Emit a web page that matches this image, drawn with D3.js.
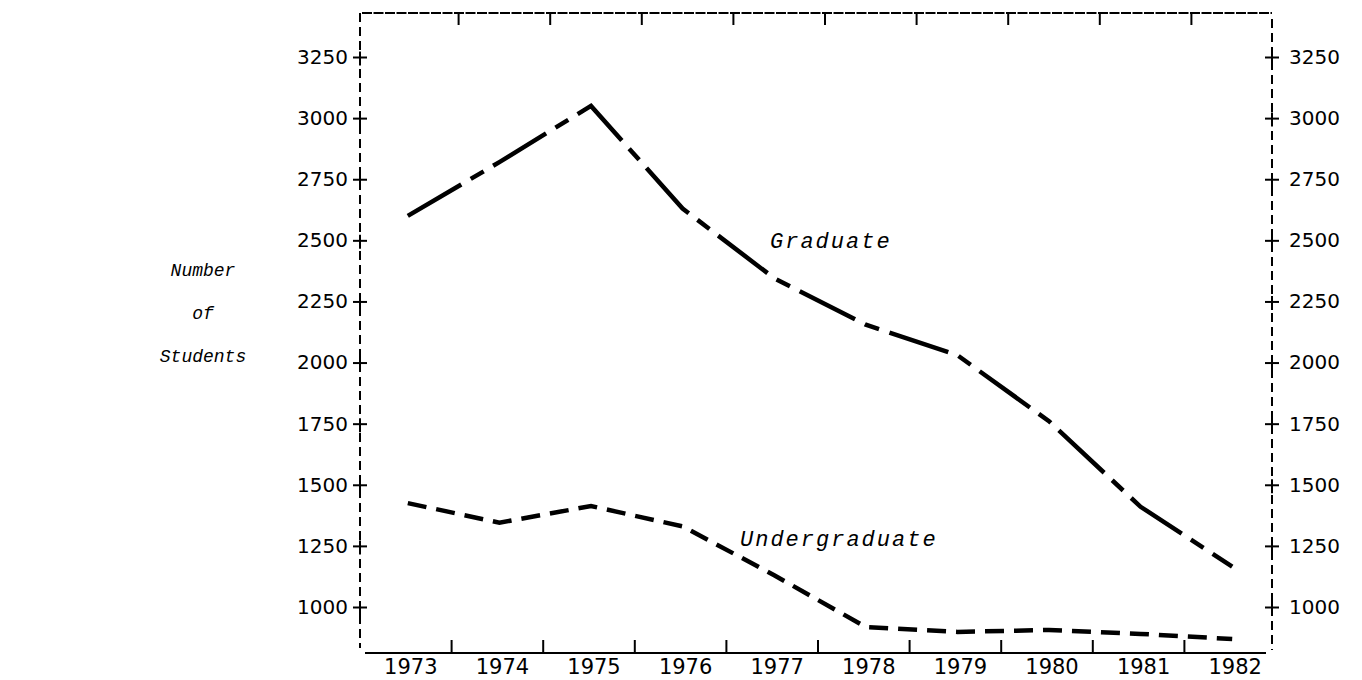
<!DOCTYPE html>
<html>
<head>
<meta charset="utf-8">
<script src="https://cdn.jsdelivr.net/npm/d3@7"></script>
<style>
  body { margin: 0; background: #fff; }
  svg text { fill: #000; }
</style>
</head>
<body>
<div id="chart"></div>
<script>
// Enrolment by year
var years = [1973, 1974, 1975, 1976, 1977, 1978, 1979, 1980, 1981, 1982];
var graduate = [2600, 2820, 3050, 2630, 2345, 2155, 2030, 1760, 1410, 1165];
var undergraduate = [1425, 1345, 1413, 1330, 1130, 918, 898, 906, 890, 869];
var yTicks = [1000, 1250, 1500, 1750, 2000, 2250, 2500, 2750, 3000, 3250];
var titleLines = ['Number', 'of', 'Students'];

var fullWidth = 1362;
var fullHeight = 680;

// frame edges
var frameL = 360, frameR = 1272, frameT = 13, frameB = 653;

var svg = d3.select('#chart').append('svg')
    .attr('width', fullWidth)
    .attr('height', fullHeight);

var xScale = d3.scaleBand()
    .domain(years)
    .range([frameL, 1276]);

var yScale = d3.scaleLinear()
    .domain([1000, 3250])
    .range([607, 57]);

var bw = xScale.bandwidth();
function px(d, i) { return xScale(years[i]) + bw / 2 + 2; }

// frame: fine dashed top, dashed sides, solid bottom
svg.append('line')
    .attr('x1', frameL + 2).attr('x2', frameR)
    .attr('y1', frameT).attr('y2', frameT)
    .attr('stroke', '#000').attr('stroke-width', 1.8)
    .attr('stroke-dasharray', '10,1.5');

svg.append('line')
    .attr('x1', frameL).attr('x2', frameL)
    .attr('y1', frameT).attr('y2', frameB - 5)
    .attr('stroke', '#000').attr('stroke-width', 2)
    .attr('stroke-dasharray', '9,5');

svg.append('line')
    .attr('x1', frameR).attr('x2', frameR)
    .attr('y1', frameT + 6).attr('y2', frameB - 3)
    .attr('stroke', '#000').attr('stroke-width', 2)
    .attr('stroke-dasharray', '9,5');

svg.append('line')
    .attr('x1', frameL + 5).attr('x2', frameR - 6)
    .attr('y1', frameB).attr('y2', frameB)
    .attr('stroke', '#000').attr('stroke-width', 2.2);

// left y axis
var yAxisL = d3.axisLeft(yScale).tickValues(yTicks).tickSize(7).tickPadding(5)
    .tickFormat(d3.format('d'));
var gl = svg.append('g')
    .attr('transform', 'translate(' + frameL + ',0)')
    .call(yAxisL);

// right y axis
var yAxisR = d3.axisRight(yScale).tickValues(yTicks).tickSize(7).tickPadding(10)
    .tickFormat(d3.format('d'));
var gr = svg.append('g')
    .attr('transform', 'translate(' + frameR + ',0)')
    .call(yAxisR);

[gl, gr].forEach(function (g) {
    g.select('.domain').remove();
    g.selectAll('.tick line')
        .attr('x1', function () { return -d3.select(this).attr('x2'); })
        .attr('stroke', '#000')
        .attr('stroke-width', 2);
    // short solid stub through the dashed axis at each tick
    g.selectAll('.tick').append('line')
        .attr('y1', -6).attr('y2', 8)
        .attr('stroke', '#000').attr('stroke-width', 2);
    g.selectAll('.tick text')
        .attr('font-family', 'DejaVu Sans, sans-serif')
        .attr('font-size', 20)
        .attr('fill', '#000');
});

// x axis labels
var xAxis = d3.axisBottom(xScale).tickSize(0).tickPadding(6);
var gx = svg.append('g')
    .attr('transform', 'translate(5,' + frameB + ')')
    .call(xAxis);
gx.select('.domain').remove();
gx.selectAll('.tick text')
    .attr('font-family', 'DejaVu Sans, sans-serif')
    .attr('font-size', 21)
    .attr('fill', '#000');

// boundary ticks along bottom (up) and top (down)
svg.selectAll('line.btick').data(years.slice(1)).enter()
    .append('line')
    .attr('class', 'btick')
    .attr('x1', function (d) { return xScale(d); })
    .attr('x2', function (d) { return xScale(d); })
    .attr('y1', frameB).attr('y2', frameB - 13)
    .attr('stroke', '#000').attr('stroke-width', 2);

svg.selectAll('line.ttick').data(years.slice(1)).enter()
    .append('line')
    .attr('class', 'ttick')
    .attr('x1', function (d) { return xScale(d) + 7; })
    .attr('x2', function (d) { return xScale(d) + 7; })
    .attr('y1', frameT).attr('y2', frameT + 12)
    .attr('stroke', '#000').attr('stroke-width', 2);

// series lines
var line = d3.line()
    .x(function (d, i) { return px(d, i); })
    .y(function (d) { return yScale(d); });

svg.append('path')
    .datum(graduate)
    .attr('d', line)
    .attr('fill', 'none')
    .attr('stroke', '#000')
    .attr('stroke-width', 4.5)
    .attr('stroke-dasharray', '62,11,15,11');

svg.append('path')
    .datum(undergraduate)
    .attr('d', line)
    .attr('fill', 'none')
    .attr('stroke', '#000')
    .attr('stroke-width', 4.5)
    .attr('stroke-dasharray', '19,10');

// series labels
svg.append('text')
    .attr('x', 770)
    .attr('y', yScale(2470))
    .attr('font-family', 'Liberation Mono, monospace')
    .attr('font-style', 'italic')
    .attr('font-size', 22)
    .attr('letter-spacing', 2)
    .text('Graduate');

svg.append('text')
    .attr('x', 740)
    .attr('y', yScale(1250))
    .attr('font-family', 'Liberation Mono, monospace')
    .attr('font-style', 'italic')
    .attr('font-size', 22)
    .attr('letter-spacing', 2)
    .text('Undergraduate');

// axis title, stacked words
svg.selectAll('text.ytitle').data(titleLines).enter()
    .append('text')
    .attr('class', 'ytitle')
    .attr('x', 203)
    .attr('y', function (d, i) { return 276 + i * 43; })
    .attr('text-anchor', 'middle')
    .attr('font-family', 'Liberation Mono, monospace')
    .attr('font-style', 'italic')
    .attr('font-size', 18)
    .text(function (d) { return d; });
</script>
</body>
</html>
